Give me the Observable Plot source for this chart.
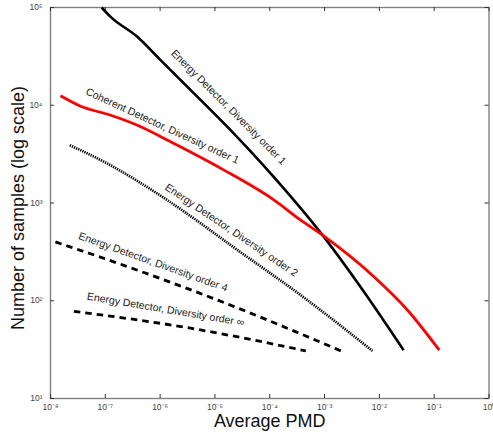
<!DOCTYPE html>
<html>
<head>
<meta charset="utf-8">
<script src="https://cdn.jsdelivr.net/npm/d3@7"></script>
<script src="https://cdn.jsdelivr.net/npm/@observablehq/plot@0.6"></script>
<style>
  html, body { margin: 0; padding: 0; background: #fff; }
  #chart svg { font-family: "Liberation Sans", Arial, sans-serif; }
</style>
</head>
<body>
<div id="chart"></div>
<script>
// Series: x = average PMD, y = number of samples
const ed1X = [8.55e-8, 1.25e-7, 3.84e-7, 1.02e-6, 3.61e-6, 1.69e-5, 1.18e-4, 9.18e-4, 5.0e-3, 2.77e-2];
const ed1Y = [100000, 80200, 50100, 28900, 14300, 6010, 1850, 469, 128, 31.2];

const cohX = [1.52e-8, 3.53e-8, 1.25e-7, 3.84e-7, 1.79e-6, 1.46e-5, 1.20e-4, 3.68e-4, 9.18e-4, 8.04e-3, 3.27e-2, 0.124];
const cohY = [12500, 9770, 7910, 6250, 4060, 2170, 1070, 667, 469, 175, 80, 31.2];

const ed2X = [2.25e-8, 1.08e-7, 1.35e-6, 2.95e-5, 3.68e-4, 7.50e-3];
const ed2Y = [3900, 2540, 1070, 313, 114, 30.7];

const ed4X = [1.23e-8, 4.41e-7, 2.95e-5, 1.98e-3];
const ed4Y = [400, 200, 82, 30.7];

const edInfX = [2.67e-8, 3.6e-6, 4.55e-4];
const edInfY = [78, 52.4, 30.7];

// Curve labels
const labelText = [
  "Energy Detector, Diversity order 1",
  "Coherent Detector, Diversity order 1",
  "Energy Detector, Diversity order 2",
  "Energy Detector, Diversity order 4",
  "Energy Detector, Diversity order \u221e"
];
const labelX = [1.78e-5, 1.10e-6, 2.00e-5, 7.45e-7, 1.26e-6];
const labelY = [9550, 6140, 527, 249, 81.5];
const labelAngle = [45, 24.7, 34, 19.7, 9.6];

const xTicks = [1e-8, 1e-7, 1e-6, 1e-5, 1e-4, 1e-3, 1e-2, 1e-1, 1];
const yTicks = [10, 100, 1000, 10000, 100000];

const sup = {"-": "\u207b", "0": "\u2070", "1": "\u00b9", "2": "\u00b2", "3": "\u00b3", "4": "\u2074", "5": "\u2075", "6": "\u2076", "7": "\u2077", "8": "\u2078", "9": "\u2079"};
const pow10 = d => "10" + String(Math.round(Math.log10(d))).split("").map(c => sup[c]).join("");

const mk = (xs, ys) => xs.map((x, i) => ({x, y: ys[i]}));
const labels = labelText.map((t, i) => ({t, x: labelX[i], y: labelY[i], a: labelAngle[i]}));

const W = 493, H = 439, ML = 50, MR = 4.5, MT = 7, MB = 41;
const fw = W - ML - MR, fh = H - MT - MB, tk = 4;

const chart = Plot.plot({
  width: W,
  height: H,
  marginLeft: ML,
  marginRight: MR,
  marginTop: MT,
  marginBottom: MB,
  x: {type: "log", domain: [1e-8, 1]},
  y: {type: "log", domain: [10, 1e5]},
  marks: [
    Plot.frame({stroke: "#808080", strokeWidth: 1.4}),
    // inward tick marks on all four sides
    Plot.tickX(xTicks, {x: d => d, insetTop: fh - tk, stroke: "#333"}),
    Plot.tickX(xTicks, {x: d => d, insetBottom: fh - tk, stroke: "#333"}),
    Plot.tickY(yTicks, {y: d => d, insetRight: fw - tk, stroke: "#333"}),
    Plot.tickY(yTicks, {y: d => d, insetLeft: fw - tk, stroke: "#333"}),
    // tick labels
    Plot.axisX({anchor: "bottom", ticks: xTicks, tickSize: 0, tickPadding: 5, tickFormat: pow10, fontSize: 8.5, fill: "#444", label: null}),
    Plot.axisY({anchor: "left", ticks: yTicks, tickSize: 0, tickPadding: 8, tickFormat: pow10, fontSize: 8.5, fill: "#444", label: null}),
    // curves
    Plot.line(mk(ed1X, ed1Y), {x: "x", y: "y", stroke: "black", strokeWidth: 2.6, strokeLinecap: "butt", curve: "monotone-x"}),
    Plot.line(mk(cohX, cohY), {x: "x", y: "y", stroke: "#ff0000", strokeWidth: 2.8, strokeLinecap: "butt", curve: "monotone-x"}),
    Plot.line(mk(ed2X, ed2Y), {x: "x", y: "y", stroke: "black", strokeWidth: 2.7, strokeDasharray: "1.3,1", strokeLinecap: "butt", curve: "monotone-x"}),
    Plot.line(mk(ed4X, ed4Y), {x: "x", y: "y", stroke: "black", strokeWidth: 2.8, strokeDasharray: "6.5,5", strokeLinecap: "butt", curve: "monotone-x"}),
    Plot.line(mk(edInfX, edInfY), {x: "x", y: "y", stroke: "black", strokeWidth: 2.8, strokeDasharray: "6.5,5", strokeLinecap: "butt", curve: "monotone-x"}),
    // curve labels
    Plot.text(labels, {x: "x", y: "y", text: "t", rotate: "a", fontSize: 10.5, fill: "#222", textAnchor: "middle", lineAnchor: "middle"}),
    // axis titles
    Plot.text(["Average PMD"], {frameAnchor: "bottom", dy: 28, fontSize: 18, fill: "#111", textAnchor: "middle"}),
    Plot.text(["Number of samples (log scale)"], {frameAnchor: "left", dx: -32, dy: 5, rotate: -90, fontSize: 18, fill: "#111", textAnchor: "middle"})
  ]
});
document.getElementById("chart").appendChild(chart);
</script>
</body>
</html>
